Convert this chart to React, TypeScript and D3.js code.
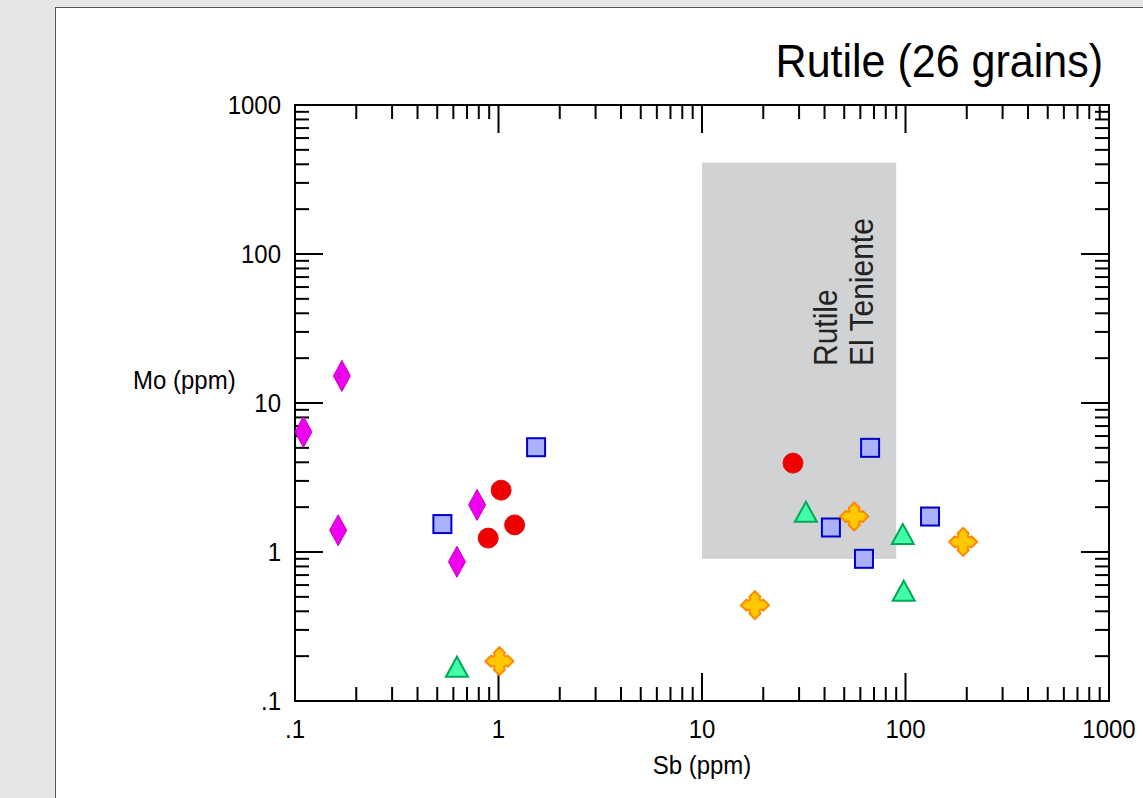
import React from "react";
import * as d3 from "d3";

// Sb (ppm), Mo (ppm) per grain
const diamonds = [
  [0.11, 6.4],
  [0.17, 15.2],
  [0.163, 1.4],
  [0.625, 0.86],
  [0.785, 2.07],
];
const circles = [
  [1.03, 2.6],
  [0.89, 1.24],
  [1.2, 1.52],
  [28, 3.95],
];
const squares = [
  [0.53, 1.54],
  [1.53, 5.05],
  [67, 5.0],
  [43, 1.46],
  [62.5, 0.9],
  [132, 1.73],
];
const triangles = [
  [0.625, 0.17],
  [32.4, 1.86],
  [97, 1.32],
  [98, 0.55],
];
const crosses = [
  [1.01, 0.185],
  [18.2, 0.44],
  [56, 1.73],
  [192, 1.17],
];

// field of El Teniente rutile: Sb range, Mo range
const fieldSb = [10, 90];
const fieldMo = [0.9, 410];

const xTickLabels = [".1", "1", "10", "100", "1000"];
const yTickLabels = [".1", "1", "10", "100", "1000"];
const decades = [0.1, 1, 10, 100];

const W = 1143;
const H = 798;
const font = "'Liberation Sans', Arial, Helvetica, sans-serif";
// glyphs in the original are a bit taller than Arial's
const STRETCH = 1.08;

const x = d3.scaleLog().domain([0.1, 1000]).range([295, 1109]);
const y = d3.scaleLog().domain([0.1, 1000]).range([701, 105]);

const MAJOR = 28;
const MINOR = 14;

// every tick value: 1..9 x 10^k
const tickVals: { v: number; major: boolean }[] = [];
decades.forEach((d) => {
  for (let i = 1; i <= 9; i++) tickVals.push({ v: d * i, major: i === 1 });
});
tickVals.push({ v: 1000, major: true });

const crossPath =
  "M0,-14 L5.5,-8.5 Q3,-3 8.5,-5.5 L14,0 L8.5,5.5 Q3,3 5.5,8.5 L0,14 L-5.5,8.5 Q-3,3 -8.5,5.5 L-14,0 L-8.5,-5.5 Q-3,-3 -5.5,-8.5 Z";

const Label = ({ px, py, anchor, central, rotate, children }: any) => (
  <text
    transform={`translate(${px},${py})${rotate ? " rotate(-90)" : ""} scale(1,${STRETCH})`}
    textAnchor={anchor || "start"}
    dominantBaseline={central ? "central" : undefined}
  >
    {children}
  </text>
);

export default function App() {
  const [x0, x1] = x.range();
  const [y0, y1] = y.range();

  return (
    <div style={{ position: "absolute", left: 0, top: 0 }}>
      <svg width={W} height={H} style={{ display: "block" }}>
        <rect x={0} y={0} width={W} height={H} fill="#e6e6e6" />
        <rect x={55.5} y={7.5} width={W} height={H} fill="#ffffff" stroke="#555" strokeWidth={1} />

        <g fontFamily={font} fontSize={43} fill="#000">
          <Label px={1103} py={77} anchor="end">Rutile (26 grains)</Label>
        </g>

        {/* reference field */}
        <rect
          x={x(fieldSb[0])}
          y={y(fieldMo[1])}
          width={x(fieldSb[1]) - x(fieldSb[0])}
          height={y(fieldMo[0]) - y(fieldMo[1])}
          fill="#d1d2d4"
        />
        <g fontFamily={font} fontSize={30} fill="#222">
          <Label px={x(fieldSb[1]) - 59} py={366} rotate>Rutile</Label>
          <Label px={x(fieldSb[1]) - 23} py={366} rotate>El Teniente</Label>
        </g>

        {/* frame + ticks */}
        <g stroke="#000" strokeWidth={2} fill="none">
          <rect x={x0} y={y1} width={x1 - x0} height={y0 - y1} />
          {tickVals.map((t, i) => {
            const len = t.major ? MAJOR : MINOR;
            const px = x(t.v);
            const py = y(t.v);
            return (
              <g key={i}>
                <line x1={px} x2={px} y1={y0} y2={y0 - len} />
                <line x1={px} x2={px} y1={y1} y2={y1 + len} />
                <line x1={x0} x2={x0 + len} y1={py} y2={py} />
                <line x1={x1} x2={x1 - len} y1={py} y2={py} />
              </g>
            );
          })}
        </g>

        <g fontFamily={font} fontSize={24} fill="#000">
          {xTickLabels.map((l, i) => (
            <Label key={"x" + i} px={x(Math.pow(10, i - 1))} py={738} anchor="middle">
              {l}
            </Label>
          ))}
          {yTickLabels.map((l, i) => (
            <Label key={"y" + i} px={281} py={y(Math.pow(10, i - 1))} anchor="end" central>
              {l}
            </Label>
          ))}
          <Label px={133} py={389}>Mo (ppm)</Label>
          <Label px={702} py={774} anchor="middle">Sb (ppm)</Label>
        </g>

        {/* markers */}
        {diamonds.map((d, i) => (
          <path
            key={"d" + i}
            transform={`translate(${x(d[0])},${y(d[1])})`}
            d="M0,-15.5 L8.5,0 L0,15.5 L-8.5,0 Z"
            fill="#ee00ee"
            stroke="#c800c8"
            strokeWidth={1}
          />
        ))}
        {circles.map((d, i) => (
          <circle key={"c" + i} cx={x(d[0])} cy={y(d[1])} r={10} fill="#ee0000" stroke="#dd1111" strokeWidth={1} />
        ))}
        {squares.map((d, i) => (
          <rect
            key={"s" + i}
            x={x(d[0]) - 9}
            y={y(d[1]) - 9}
            width={18}
            height={18}
            fill="#aab0fa"
            stroke="#0000cc"
            strokeWidth={2}
          />
        ))}
        {triangles.map((d, i) => (
          <path
            key={"t" + i}
            transform={`translate(${x(d[0])},${y(d[1])})`}
            d="M0,-10 L11,10 L-11,10 Z"
            fill="#44ffaa"
            stroke="#00aa55"
            strokeWidth={2}
          />
        ))}
        {crosses.map((d, i) => (
          <path
            key={"x" + i}
            transform={`translate(${x(d[0])},${y(d[1])})`}
            d={crossPath}
            fill="#ffc800"
            stroke="#ff8800"
            strokeWidth={2}
          />
        ))}
      </svg>
    </div>
  );
}
